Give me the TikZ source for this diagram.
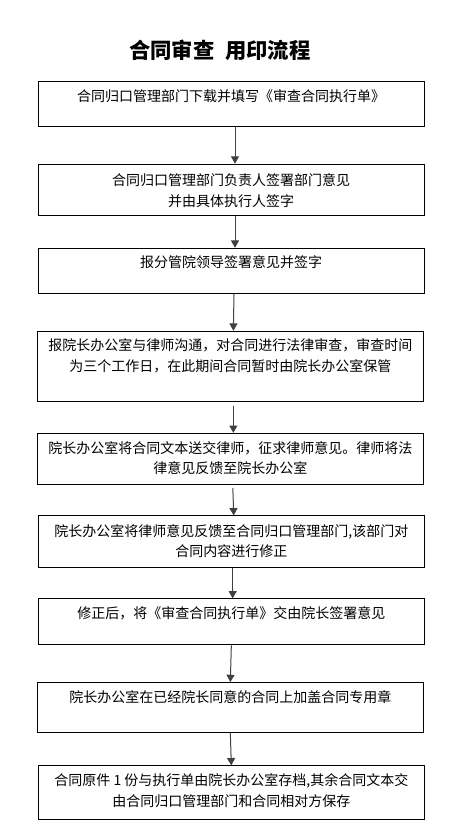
\documentclass[tikz,border=0pt]{standalone}
\usepackage{fontspec}
\newfontfamily\cjk{Noto Sans CJK SC}
\usetikzlibrary{arrows.meta, positioning}
\definecolor{flowgray}{RGB}{64,64,64}
\tikzset{
  stepbox/.style={
    rectangle, draw=black, line width=0.75pt, minimum width=289.5pt,
    inner sep=0pt
  },
  steptext/.style={
    anchor=north, inner sep=0pt, align=center,
    font=\cjk\fontsize{10.5pt}{15.5pt}\selectfont
  },
  titletext/.style={font=\cjk\bfseries\fontsize{16pt}{18pt}\selectfont},
  flow/.style={-{Triangle[length=5.5pt, width=6pt]}, line width=0.75pt, color=flowgray}
}

\begin{document}
\begin{tikzpicture}[x=0.75pt, y=-0.75pt]
  \useasboundingbox (0,0) rectangle (462,831);
  \node[titletext] (title) at (219.7,50) {合同审查\hskip0.5em用印流程};

  % steps
  \node[stepbox, minimum height=34.2pt, anchor=north] (s1) at (231,80.7) {};
  \node[stepbox, minimum height=38.5pt, below=27.3pt of s1] (s2) {};
  \node[stepbox, minimum height=34pt, below=23.8pt of s2] (s3) {};
  \node[stepbox, minimum height=53pt, below=27.5pt of s3, xshift=-0.5pt] (s4) {};
  \node[stepbox, minimum height=38.5pt, below=22.8pt of s4] (s5) {};
  \node[stepbox, minimum height=39pt, below=22.7pt of s5, xshift=0.75pt] (s6) {};
  \node[stepbox, minimum height=34.5pt, below=22.5pt of s6] (s7) {};
  \node[stepbox, minimum height=37.5pt, below=27.5pt of s7, xshift=-0.75pt] (s8) {};
  \node[stepbox, minimum height=40.3pt, below=24.2pt of s8, xshift=0.75pt] (s9) {};

  \node[steptext] (t1) at ([yshift=-6.5pt]s1.north) {合同归口管理部门下载并填写《审查合同执行单》};
  \node[steptext] (t2) at ([yshift=-7.5pt]s2.north) {合同归口管理部门负责人签署部门意见\\并由具体执行人签字};
  \node[steptext] (t3) at ([yshift=-5.5pt]s3.north) {报分管院领导签署意见并签字};
  \node[steptext] (t4) at ([yshift=-5.8pt]s4.north) {报院长办公室与律师沟通，对合同进行法律审查，审查时间\\为三个工作日，在此期间合同暂时由院长办公室保管};
  \node[steptext] (t5) at ([yshift=-6.2pt]s5.north) {院长办公室将合同文本送交律师，征求律师意见。律师将法\\律意见反馈至院长办公室};
  \node[steptext] (t6) at ([yshift=-6.5pt]s6.north) {院长办公室将律师意见反馈至合同归口管理部门,该部门对\\合同内容进行修正};
  \node[steptext] (t7) at ([yshift=-6.2pt]s7.north) {修正后，将《审查合同执行单》交由院长签署意见};
  \node[steptext] (t8) at ([yshift=-6.2pt]s8.north) {院长办公室在已经院长同意的合同上加盖合同专用章};
  \node[steptext] (t9) at ([yshift=-6.3pt]s9.north) {合同原件 1 份与执行单由院长办公室存档,其余合同文本交\\由合同归口管理部门和合同相对方保存};

  \draw[flow] ([xshift=3pt]s1.south) -- ([xshift=3pt]s2.north);
  \draw[flow] ([xshift=3pt]s2.south) -- ([xshift=3pt]s3.north);
  \draw[flow] ([xshift=2.25pt]s3.south) -- ([xshift=2.25pt]s4.north);
  \draw[flow, shorten <=2.5pt] ([xshift=2.25pt]s4.south) -- ([xshift=2.25pt]s5.north);
  \draw[flow, shorten <=2pt] ([xshift=1.8pt]s5.south) -- ([xshift=1.8pt]s6.north);
  \draw[flow] ([xshift=1pt]s6.south) -- ([xshift=1pt]s7.north);
  \draw[flow] (s7.south) -- (s8.north);
  \draw[flow] (s8.south) -- (s9.north);
\end{tikzpicture}
\end{document}
